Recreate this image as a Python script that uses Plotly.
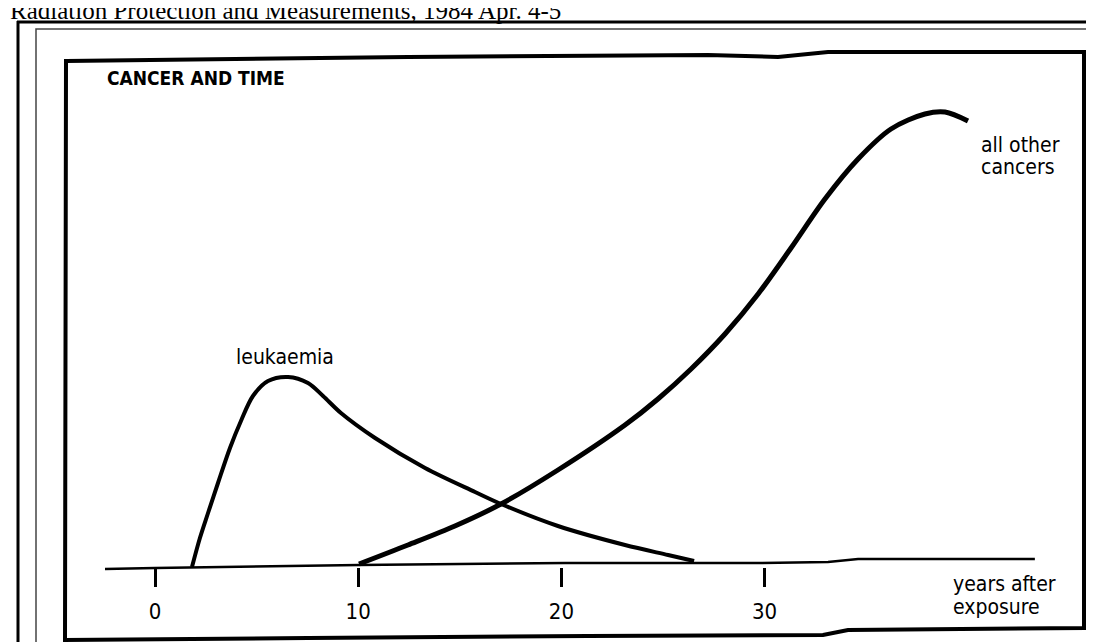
import plotly.graph_objects as go

# ---------------- data ----------------
years_leukaemia = [1.82, 2.21, 2.61, 3.10, 3.69, 4.23, 4.82, 5.56, 6.55, 7.53, 8.27,
                   9.15, 10.83, 13.29, 15.75, 17.03, 19.83, 23.13, 25.25, 26.53]
leukaemia = [-1, 28, 53, 83, 118, 145, 170, 185, 189, 183, 170,
             153, 128, 98, 74, 62, 40, 21, 11, 5]

years_other = [10.04, 12.45, 14.76, 17.03, 19.83, 23.13, 24.75, 26.38, 28.05,
               29.68, 31.30, 32.97, 34.60, 36.22, 37.89, 38.88, 40.01]
other_cancers = [2, 21, 40, 62, 96, 141, 167, 197, 232,
                 272, 318, 367, 407, 437, 452, 454, 445]

years_baseline = [-2.46, 0, 10.04, 20.18, 29.87, 33.12, 34.6, 43.3]
baseline = [-3, -2, 1, 3, 3, 4, 7, 7]

tick_values = [0, 10, 20, 30]
tick_labels = ["0", "10", "20", "30"]

# ---------------- figure ----------------
W, H = 1094, 642
COND = "DejaVu Sans Condensed, Liberation Sans Narrow, sans-serif"


def P(x, y):
    return x / W, 1 - y / H


fig = go.Figure()
fig.add_trace(go.Scatter(x=years_baseline, y=baseline, mode="lines",
                         line=dict(color="black", width=2.5), hoverinfo="skip"))
fig.add_trace(go.Scatter(x=years_leukaemia, y=leukaemia, mode="lines",
                         line=dict(color="black", width=4, shape="spline", smoothing=0.9),
                         name="leukaemia"))
fig.add_trace(go.Scatter(x=years_other, y=other_cancers, mode="lines",
                         line=dict(color="black", width=5, shape="spline", smoothing=0.9),
                         name="all other cancers"))

annotations = []


def add_text(text, x, y, size, font=COND, xanchor="left", yanchor="middle", align="left",
             color="black", weight="normal"):
    px, py = P(x, y)
    annotations.append(dict(text=text, x=px, y=py, xref="paper", yref="paper",
                            xanchor=xanchor, yanchor=yanchor, align=align, showarrow=False,
                            font=dict(family=font, size=size, color=color, weight=weight)))


add_text("Radiation Protection and Measurements, 1984 Apr. 4-5", 0, 3, 25,
         font="Liberation Serif, Times New Roman, serif")
add_text("CANCER AND TIME", 97, 70, 19, weight="bold")
add_text("leukaemia", 277, 349, 21, xanchor="center", align="center")
add_text("all other", 971, 137, 21)
add_text("cancers", 971, 159, 21)
add_text("years after", 943, 576, 21)
add_text("exposure", 943, 599, 21)

shapes = []
# page border (thick, top and left)
shapes.append(dict(type="line", xref="paper", yref="paper", x0=P(9, 0)[0], x1=1.0,
                   y0=P(0, 14)[1], y1=P(0, 14)[1], line=dict(color="black", width=3)))
shapes.append(dict(type="line", xref="paper", yref="paper", x0=P(10, 0)[0], x1=P(10, 0)[0],
                   y0=P(0, 13)[1], y1=0, line=dict(color="black", width=3)))
# thin grey frame
x0, y0 = P(28, 21)
x1, y1 = P(1089, 637)
shapes.append(dict(type="rect", xref="paper", yref="paper", x0=x0, y0=y1, x1=x1, y1=y0,
                   line=dict(color="#444444", width=1.5)))
# hand drawn frame
frame_pts = [(58, 53), (400, 49), (700, 47), (770, 49), (820, 44), (1076, 44),
             (1076, 620), (840, 622), (815, 627), (580, 628), (300, 630), (57, 632)]
path = ""
for i, (fx, fy) in enumerate(frame_pts):
    px, py = P(fx, fy)
    path += ("M" if i == 0 else " L") + f" {px:.5f},{py:.5f}"
path += " Z"
shapes.append(dict(type="path", xref="paper", yref="paper", path=path,
                   line=dict(color="black", width=4)))

fig.update_layout(
    width=W, height=H,
    margin=dict(l=0, r=0, t=0, b=0),
    paper_bgcolor="white", plot_bgcolor="white",
    showlegend=False,
    annotations=annotations,
    shapes=shapes,
    xaxis=dict(range=[-147 / 20.32, (W - 147) / 20.32], anchor="free",
               position=(-1 + 84) / 642, side="bottom",
               tickvals=tick_values, ticktext=tick_labels,
               ticks="outside", ticklen=19, tickwidth=2.5, tickcolor="black",
               ticklabelstandoff=6,
               tickfont=dict(family=COND, size=22, color="black"),
               showline=False, showgrid=False, zeroline=False, fixedrange=True),
    yaxis=dict(range=[-84, 558], visible=False, fixedrange=True),
)

fig.write_html("out.html")
